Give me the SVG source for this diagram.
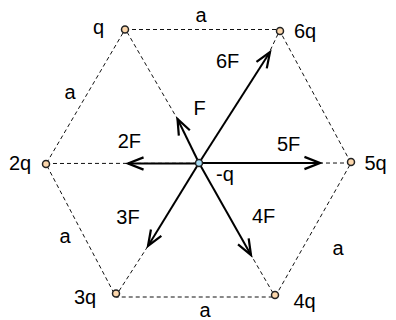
<svg xmlns="http://www.w3.org/2000/svg" width="396" height="320" viewBox="0 0 396 320">
<defs>
<style>
.dash{fill:none;stroke:#111;stroke-width:1;stroke-dasharray:4,3}
.arr{fill:none;stroke:#000;stroke-width:2;marker-end:url(#ah)}
.chg{fill:#fcd7ac;stroke:#222;stroke-width:1.5}
.ctr{fill:#a8dcf4;stroke:#222;stroke-width:1.5}
text{font-family:"Liberation Sans",Arial,sans-serif;font-size:20px;fill:#000}
.m{text-anchor:middle}
</style>
<marker id="ah" markerUnits="userSpaceOnUse" markerWidth="20" markerHeight="20" refX="0" refY="0" viewBox="-16 -8 18 16" orient="auto" overflow="visible">
<path d="M-14,-5.5 L0,0 L-14,5.5" fill="none" stroke="#000" stroke-width="2"/>
</marker>
</defs>
<rect width="396" height="320" fill="#fff"/>
<g id="connectors">
<polygon class="dash" points="125,29.5 279,29.5 351,163 275,297 116,297 46,164"/>
<line class="dash" x1="46" y1="163.5" x2="351" y2="163"/>
<line class="dash" x1="127" y1="32" x2="178" y2="120"/>
<line class="dash" x1="278" y1="34" x2="269" y2="53"/>
<line class="dash" x1="119" y1="291" x2="148" y2="246"/>
<line class="dash" x1="273" y1="293" x2="251" y2="255"/>
<line class="arr" x1="199" y1="163" x2="177.5" y2="119"/>
<line class="arr" x1="199" y1="163" x2="270" y2="52"/>
<line class="arr" x1="199" y1="163.5" x2="128" y2="163.5"/>
<line class="arr" x1="199" y1="163" x2="320" y2="163"/>
<line class="arr" x1="199" y1="163" x2="148" y2="246"/>
<line class="arr" x1="199" y1="163" x2="251" y2="255"/>
</g>
<g id="edge-labels">
<text class="m" x="201" y="22">a</text>
<text class="m" x="70" y="99">a</text>
<text class="m" x="65" y="242.5">a</text>
<text class="m" x="338" y="255">a</text>
<text class="m" x="205" y="316.5">a</text>
</g>
<g id="force-labels">
<text x="193.5" y="115">F</text>
<text x="117.7" y="148">2F</text>
<text x="116.3" y="224">3F</text>
<text x="252" y="223">4F</text>
<text x="277" y="151">5F</text>
<text x="216" y="68">6F</text>
</g>
<g id="node-q"><circle class="chg" cx="125" cy="29.5" r="3.5"/><text x="93" y="34">q</text></g>
<g id="node-2q"><circle class="chg" cx="46" cy="164" r="3.5"/><text x="9" y="170">2q</text></g>
<g id="node-3q"><circle class="chg" cx="116" cy="293.5" r="3.5"/><text x="74" y="304">3q</text></g>
<g id="node-4q"><circle class="chg" cx="275" cy="295" r="3.5"/><text x="293.5" y="308">4q</text></g>
<g id="node-5q"><circle class="chg" cx="351" cy="162" r="3.5"/><text x="364.5" y="170">5q</text></g>
<g id="node-6q"><circle class="chg" cx="280" cy="31" r="3.5"/><text x="294" y="38">6q</text></g>
<g id="node-center"><circle class="ctr" cx="199" cy="163" r="3.5"/><text x="216" y="181">-q</text></g>
</svg>
